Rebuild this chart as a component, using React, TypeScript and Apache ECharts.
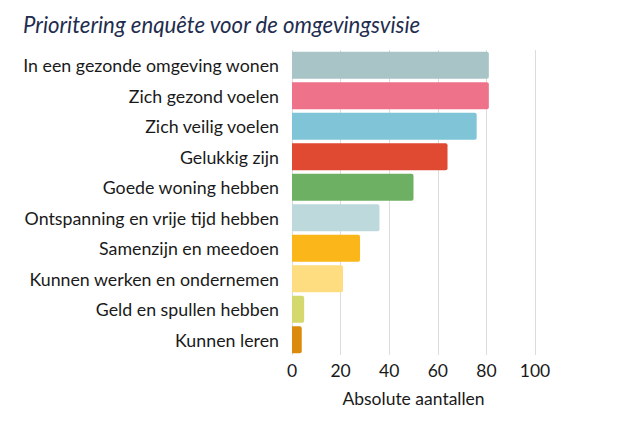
import React, { useEffect, useRef } from "react";
import * as echarts from "echarts";

const categories = [
  "In een gezonde omgeving wonen",
  "Zich gezond voelen",
  "Zich veilig voelen",
  "Gelukkig zijn",
  "Goede woning hebben",
  "Ontspanning en vrije tijd hebben",
  "Samenzijn en meedoen",
  "Kunnen werken en ondernemen",
  "Geld en spullen hebben",
  "Kunnen leren",
];
const values = [81, 81, 76, 64, 50, 36, 28, 21, 5, 4];
const colors = [
  "#a9c4c7",
  "#ee7289",
  "#80c5d7",
  "#e04a33",
  "#6eb063",
  "#bdd9db",
  "#fbb71a",
  "#fedd80",
  "#d5d86d",
  "#dc8a0c",
];
const title = "Prioritering enquête voor de omgevingsvisie";
const xAxisName = "Absolute aantallen";

export default function App() {
  const ref = useRef<HTMLDivElement>(null);
  useEffect(() => {
    if (!ref.current) return;
    const chart = echarts.init(ref.current, null, { renderer: "svg" });
    const font = "Lato";
    chart.setOption({
      animation: false,
      title: {
        text: title,
        left: 10,
        top: 0,
        textStyle: {
          fontFamily: font,
          fontStyle: "italic",
          fontWeight: "normal",
          fontSize: 22.2,
          color: "#1f2d4e",
        },
      },
      grid: { left: 284, right: 81, top: 42, bottom: 67 },
      xAxis: {
        type: "value",
        min: 0,
        max: 100,
        interval: 20,
        name: xAxisName,
        nameLocation: "middle",
        nameGap: 34,
        nameTextStyle: { fontFamily: font, fontSize: 17.5, color: "#1a1a1a" },
        axisLine: { show: false },
        axisTick: { show: false },
        axisLabel: { fontFamily: font, fontSize: 17.5, color: "#1a1a1a", margin: 6 },
        splitLine: { show: true, lineStyle: { color: "#dcdcdc", width: 1 } },
      },
      yAxis: {
        type: "category",
        data: categories,
        inverse: true,
        axisLine: { show: false },
        axisTick: { show: false },
        axisLabel: { fontFamily: font, fontSize: 17.8, color: "#1a1a1a", margin: 13 },
      },
      series: [
        {
          type: "bar",
          barCategoryGap: "12%",
          data: values.map((v, i) => ({
            value: v,
            itemStyle: { color: colors[i], borderRadius: [0, 2, 2, 0] },
          })),
        },
      ],
    });
    return () => chart.dispose();
  }, []);
  return <div ref={ref} style={{ width: 608, height: 414 }} />;
}
